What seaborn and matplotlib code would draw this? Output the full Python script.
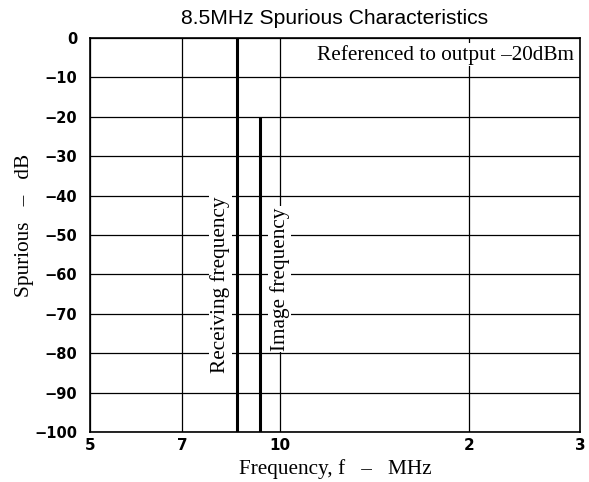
import numpy as np
import pandas as pd
import seaborn as sns
import matplotlib.pyplot as plt
from matplotlib.ticker import NullLocator

# spurious components (MHz, dB)
spur_names = ["Receiving frequency", "Image frequency"]
spur_freq = [8.55, 9.3]
spur_level = [0, -20]

x_ticks = [5, 7, 10, 20, 30]
x_tick_labels = ["5", "7", "10", "2", "3"]
y_ticks = [0, -10, -20, -30, -40, -50, -60, -70, -80, -90, -100]
y_tick_labels = ["0", "\u221210", "\u221220", "\u221230", "\u221240", "\u221250",
                 "\u221260", "\u221270", "\u221280", "\u221290", "\u2212100"]

df = pd.DataFrame({"name": spur_names, "freq": spur_freq, "level": spur_level})

sns.set_style("white")
plt.rcParams['font.family'] = ['DejaVu Sans']
plt.rcParams['text.color'] = 'black'
plt.rcParams['axes.labelcolor'] = 'black'
plt.rcParams['xtick.color'] = 'black'
plt.rcParams['ytick.color'] = 'black'

fig = plt.figure(figsize=(5.89, 4.82), dpi=100)
ax = fig.add_axes([0.1528, 0.1037, 0.8319, 0.8175])

ax.set_xscale("log")
ax.set_xlim(5, 30)
ax.set_ylim(-100, 0)

# grid
for x in x_ticks:
    ax.axvline(x, color="black", lw=0.9, zorder=1)
for y in y_ticks:
    ax.axhline(y, color="black", lw=0.9, zorder=1)

# spurious lines
ax.vlines(df["freq"], -100, df["level"], color="black", lw=2.2, zorder=3)

ax.set_xticks(x_ticks)
ax.set_xticklabels(x_tick_labels, fontsize=11, fontweight="bold")
ax.xaxis.set_minor_locator(NullLocator())
ax.set_yticks(y_ticks)
ax.set_yticklabels(y_tick_labels, fontsize=10.5, fontweight="bold")
ax.tick_params(axis="y", length=0, pad=9)
ax.tick_params(axis="x", length=0, pad=4)

for s in ax.spines.values():
    s.set_color("black")
    s.set_linewidth(1.2)

serif = ['Liberation Serif', 'DejaVu Serif']

# labels next to lines
ax.text(8.05, -62.7, "Receiving frequency", rotation=90, ha="center", va="center",
        family=serif, fontsize=15.3, zorder=4,
        bbox=dict(facecolor="white", edgecolor="none", pad=1))
ax.text(10.0, -61.2, "Image frequency", rotation=90, ha="center", va="center",
        family=serif, fontsize=15.3, zorder=4,
        bbox=dict(facecolor="white", edgecolor="none", pad=1))
ax.text(29.3, -4.3, "Referenced to output \u201320dBm", ha="right", va="center",
        family=serif, fontsize=15.3, zorder=4,
        bbox=dict(facecolor="white", edgecolor="none", pad=1))

ax.set_title("8.5MHz Spurious Characteristics", family=['Liberation Sans', 'DejaVu Sans'],
             fontsize=15.2, pad=10)
ax.set_xlabel("Frequency, f   \u2013   MHz", family=serif, fontsize=15.3, labelpad=5)
ax.set_ylabel("Spurious   \u2013   dB", family=serif, fontsize=15.3, labelpad=0)
ax.yaxis.label.set_y(0.523)

fig.savefig("out.png", dpi=100)
